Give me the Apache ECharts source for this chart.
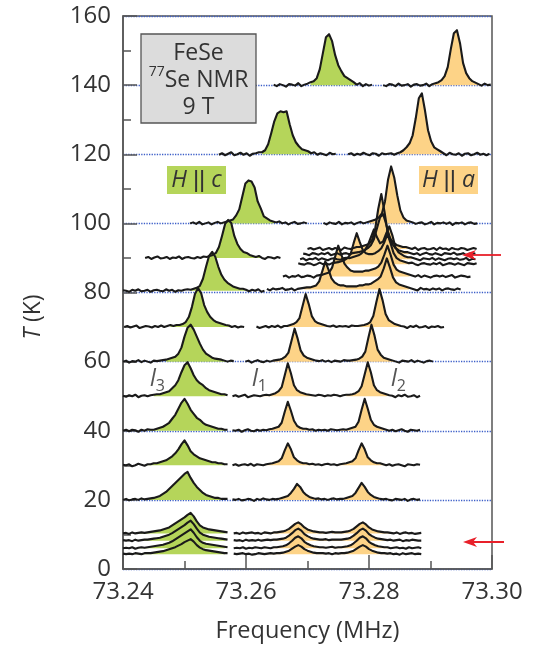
<!DOCTYPE html>
<html>
<head>
<meta charset="utf-8">
<script src="https://cdn.jsdelivr.net/npm/echarts/dist/echarts.min.js"></script>
<style>
html,body{margin:0;padding:0;background:#fff;}
#chart{width:540px;height:648px;}
</style>
</head>
<body>
<div id="chart"></div>
<script>
// ---------------- data ----------------
// frequency axis (MHz) and temperature axis (K)
const xTicks = [73.24, 73.26, 73.28, 73.30];
const yTicks = [0, 20, 40, 60, 80, 100, 120, 140, 160];
const STEP = 0.0005;      // MHz between successive spectrum samples
const SCALE = 0.289;      // K of vertical offset per intensity unit

// spectra: intensities (a.u.) sampled every STEP MHz from the start frequency
// H || c (green) and H || a (orange) segments at each temperature
const c140 = [0.5,-1,1,0,-1.5,1,0.5,-0.5,2,-1,0.5,1.5,3, 4,7,16,32,48,51,44,30,20,14,9,7,5,3, 0.5,2,-1,1,-0.5,0.5];
const a140 = [0,-1,1,0.5,-1,1.5,-0.5,0,1,-1.5,0.5,1,-0.5,0,1.5,-1,1,2, 3,5,9,18,36,52,55,42,22,12,7,4,2.5, 1,-0.5,1.5,0,0.5];
const c120 = [-0.5,1,-1,0.5,2,-1,0,1.5,-0.5,1,-1.5,0.5,1,2, 2,4,10,21,33,41,43,42,43,30,19,12,8,5,4,3, 1,2,-0.5,1,0,-1,1.5,0,0.5];
const a120 = [0,1,-1,0.5,-0.5,1.5,0,-1,1,0.5,-1.5,1,0,0.5,1,-0.5,1, 2,4,7,11,19,36,56,61,44,24,13,7,5,3, 1,-1,1.5,0,-0.5,1,-1.5,0.5,1,-1,0,1.5,-0.5,0.5,-1,0.5];
const c100 = [0,1,-0.5,1.5,-1,0,1,-1,0.5,1.5,0,1,2, 3,4,8,14,27,40,43,42,36,22,15,7,5,3,2,1, 2,0,1,-1,0.5,1.5,-0.5,0,1,0];
const a100 = [0.5,-1,1,0,-0.5,1.5,-1,0.5,0,1,-1,0.5,1.5,0,1, 2,3,4,6,10,22,44,57,46,28,13,6,3,2, 1,-0.5,0.5,1,-1,0,1.5,-1,0.5,0,1,-0.5,1,-1.5,0.5,0,1,-1,0.5,1,-0.5,0];
const a926 = [0,1,-0.5,0.5,1.5,-1,0,1,-0.5,1,0,-1,1.5,0.5,0,1, 2,2,3,4,5,9,20,40,55,38,18,10,6,4,3,2,2, 1,0,1.5,-1,0.5,1,-0.5,0,1,-1,1.5,0,0.5,-1,1,0,-0.5,1,0.5,-1,0,1,0];
const a911 = [0.5,0,-1,1,0.5,-0.5,1,0,1.5,-1,0,1,-0.5,0.5,1,0,1,1.5, 2,3,4,6,9,15,26,37,40,30,17,10,6,4,3,2,2, 1,0,1,-1,0.5,1.5,0,-0.5,1,0,-1,1,0.5,0,1.5,-0.5,0,1,-1,0.5,0,1];
const c90  = [0,1,-1,0.5,1.5,-0.5,0,1,-1,0.5,0,1.5,-1,0.5,1,0,-0.5,1,0,1.5,1, 2,3,5,11,22,34,38,35,22,14,9,6,5,3,2,1, 2,0,-1,1,0.5,-0.5,1,0];
const a896 = [0,1,-1,0.5,0,1.5,-0.5,1,0,-1,0.5,1,0,-0.5,1,1.5,1, 2,3,4,6,9,14,22,30,22,16,18,26,33,24,12,7,5,3,2,2, 1,0,-1,1,0.5,0,1.5,-0.5,1,0,-1,0.5,1,0,1,-0.5,0,1.5,-1,0.5,0];
const a882 = [1,0,-0.5,1,0.5,-1,0,1.5,0,1,-0.5,1,1.5, 2,3,4,6,10,21,31,22,14,11,10,10,11,13,16,22,30,21,11,6,4,3,2, 1,1.5,0,-1,0.5,1,0,-0.5,1,0,1.5,-1,0,1,0.5,-0.5,1,0,-1,1,0.5,0,1];
const a846 = [0,1,-1,0.5,0,1.5,-0.5,0,1,0.5,-1,1,1.5, 2,3,4,9,20,31,22,13,9,6,5,5,5,5,6,6,7,8,10,14,22,31,22,12,7,5,4,3,2, 1,0,1.5,-0.5,1,0,-1,0.5,1,0,1,-0.5,0.5,1.5,-1,0,1,0.5,-0.5,0];
const a809 = [0.5,-1,1,0,0.5,1.5,-0.5,0,1,-1,0.5,1,1.5, 2,2,3,4,8,18,28,20,11,7,5,4,4,3,3,3,3,4,4,5,5,6,8,10,13,21,31,22,12,7,5,4,3,2, 1,0,-1,1.5,0,0.5,-0.5,1,0,1,-1,0.5,1,0,-0.5,1,0];
const c80  = [0.5,0,-1,1,0,1.5,-0.5,0,1,-1,0.5,1,0,-0.5,1.5,0,1,-1,0.5,0,1,1.5,1,2, 3,5,12,24,35,39,34,24,16,11,8,6,4,3,2, 2,1,-0.5,1,0,1.5,-1,0];
const c70  = [0,1,-0.5,0.5,1.5,-1,0,1,0.5,-0.5,1,0,1.5,0,1,2,1,2, 2,3,5,10,20,33,39,34,22,15,10,7,5,4,3,2, 1.5,0,1,-0.5,0.5,0];
const a70  = [0.5,-1,0,1,-0.5,1,0,1.5,-0.5,1,1, 2,3,5,9,21,33,23,11,6,4,3,2, 1,0.5,1.5,0,1,0.5,1,0,1.5,1,1,1.5, 2,3,5,11,25,38,27,13,7,5,3,2, 1,0.5,-1,1,0,1.5,-0.5,0,1,-1,0.5,0,1,-0.5,0];
const c60  = [0,1,-1,0.5,0,1.5,-0.5,1,0,-1,1,0.5,1,1.5, 2,3,4,5,8,14,25,34,37,32,25,18,12,8,6,4,3,2.5,2, 1,0,1,0.5];
const a60  = [0,1,-1,0.5,1.5,0,-0.5,1,0,1,1.5, 2,3,5,9,21,33,23,11,6,4,3,2, 1,0.5,1.5,0,1,-0.5,1,0.5,0,1.5,1,1,1.5, 2,3,5,10,24,37,26,12,7,4,3,2, 1,0,-1,1,0.5,0,1.5,-0.5,1,0,-1,0.5,1,0];
const c50  = [0.5,-0.5,1,0,1.5,-1,0.5,1,0,1,1.5,2, 2,3,4,5,8,11,16,24,31,34,28,21,16,13,11,8,6,5,4,3,2,2,1];
const a50  = [0,1,-0.5,0.5,1.5,-1,0,1,0.5,0,1,1.5,1, 2,3,5,9,21,33,23,11,6,4,3,2, 1.5,1,0.5,1.5,1,0,1,0.5,1.5,1,0,1,1.5,1.5, 2,3,5,10,22,34,24,11,6,4,3,2, 1,0.5,-1,1,0,1.5,-0.5,0,1,-1,0.5];
const c40  = [0,1,-0.5,1,0.5,-1,1,0,1.5,1, 1,2,3,4,6,8,12,16,22,28,32,27,21,17,13,11,8,6,5,4,3,2,2,1,1];
const a40  = [0.5,0,1,-1,0.5,1.5,0,-0.5,1,0,1,0.5,1.5, 2,3,4,8,19,29,20,10,5,3,2,2, 1,1.5,0,1,0.5,1,0,1.5,1,0.5,1,1.5,1, 2,3,4,9,21,32,22,11,6,4,3,2, 1,0,1,-0.5,0.5,1.5,0,-1,1,0.5,0,1];
const c30  = [0.5,0,1,-1,0,1.5,0.5,-0.5,1,1,2, 2,3,4,5,7,9,12,16,21,25,20,14,11,9,7,6,5,4,3,3,2,2,1,1];
const a30  = [0,1,-0.5,0.5,1,0,1.5,-0.5,1,0.5,0,1,1.5, 2,3,4,7,15,22,16,8,5,3,2,2, 1,1.5,0.5,1,0,1,1.5,0.5,1,0,1,1.5, 2,3,4,7,15,22,16,8,5,3,2,2, 1,0,1,-0.5,0.5,1,0,-1,1,0.5,0,1,0.5];
const c20  = [0,1,-0.5,0.5,1,0,1.5,0.5,1,1.5, 2,3,4,6,8,11,14,17,20,23,26,28,22,17,13,10,7,5,4,3,2,2,1,1,1];
const a20  = [0.5,0,1,-0.5,0,1,0.5,-1,1,0,1.5,0.5,0,1,0.5, 1,2,3,4,7,11,16,13,8,5,3,2,1, 1.5,0.5,1,0,1,1.5,0.5,1, 1,2,3,4,7,12,17,13,8,5,3,2,1, 0.5,1,0,-0.5,1,0.5,0,1,-1,0.5,1,0,0.5];
const cL1  = [0,0.5,-0.5,1,0,0.5,1,0.5, 1,1.5,2,2.5,3,4,5,6,8,10,12,14,16,18.5,20.5,17,12,8,6,5,4,3.5,3,2.5,2,1.5,1];
const cL2  = [0.5,0,0.5,-0.5,1,0,0.5,1, 1,1.5,2,2.5,3,4,5,6,7.5,9.5,11.5,13.5,15.5,18,20,16.5,12,8,6,5,4,3.5,3,2.5,2,1.5,1];
const cL3  = [0,0.5,0,1,-0.5,0.5,1,0.5, 1,1.5,2,2.5,3,3.5,4.5,5.5,7,9,11,13,15,17,19,15.5,11,7.5,5.5,4.5,4,3.5,3,2.5,2,1.5,1];
const cL4  = [0.5,0,0.5,0,1,0.5,0,1, 1,1,1.5,2,2.5,3,4,5,6,7,8.5,10,12,13.5,15,12.5,9,6.5,5,4,3.5,3,2.5,2,1.5,1,1];
const aL1  = [0,0.5,-0.5,1,0,0.5,1,0,0.5,-0.5,1,0.5,0,1, 1,1.5,2,3,4.5,7,9.5,11,9,6,4,3,2,1.5,1, 1,0.5,1,1.5,1,1, 1,1.5,2,3,4.5,7,9.5,11,9,6,4,3,2,1.5,1, 1,0.5,0,1,-0.5,0.5,1,0,0.5,-0.5,0,0.5];
const aL2  = [0.5,0,0.5,-0.5,1,0,0.5,0,1,0,0.5,1,0.5,1, 1,1.5,2,3,5,7.5,10.5,12,10,6.5,4.5,3,2,1.5,1, 1,1.5,0.5,1,1,1, 1,1.5,2,3,5,7.5,10.5,12,10,6.5,4.5,3,2,1.5,1, 0.5,1,0,0.5,1,-0.5,0.5,0,1,0.5,0,0];
const aL3  = [0,0.5,0,1,-0.5,0.5,0,1,0.5,0,1,0.5,0,1, 1,1.5,2,3,5,7.5,10.5,12,10,6.5,4.5,3,2,1.5,1, 1,0.5,1,1.5,0.5,1, 1,1.5,2,3,5,7.5,10.5,12,10,6.5,4.5,3,2,1.5,1, 1,0,0.5,1,0,0.5,-0.5,1,0,0.5,1,0];
const aL4  = [0.5,0,0.5,1,0,0.5,-0.5,0,1,0.5,0,0.5,1,0.5, 1,1,1.5,2.5,3.5,5.5,7.5,9,7.5,5,3.5,2.5,1.5,1,1, 1,0.5,1,0,1,0.5, 1,1,1.5,2.5,3.5,5.5,7.5,9,7.5,5,3.5,2.5,1.5,1,1, 0.5,1,0,0.5,-0.5,1,0,0.5,1,0,0.5,0];

const GREEN = '#b5d55a';
const ORANGE = '#fdd387';
const LINE = '#1a1a1a';

// table of segments: baseline temperature T (K), start frequency f0 (MHz),
// intensities, filled index ranges; ordered from high to low temperature
const SEGMENTS = [
  {T:140,  f0:73.2645, v:c140, fill:[[12,27]], col:GREEN},
  {T:140,  f0:73.2823, v:a140, fill:[[15,32]], col:ORANGE},
  {T:120,  f0:73.2556, v:c120, fill:[[14,31]], col:GREEN},
  {T:120,  f0:73.2766, v:a120, fill:[[16,31]], col:ORANGE},
  {T:100,  f0:73.2509, v:c100, fill:[[10,28]], col:GREEN},
  {T:100,  f0:73.2726, v:a100, fill:[[15,28]], col:ORANGE},
  {T:92.6, f0:73.2700, v:a926, fill:[[16,33]], col:ORANGE},
  {T:91.1, f0:73.2693, v:a911, fill:[[18,35]], col:ORANGE},
  {T:90,   f0:73.2436, v:c90,  fill:[[21,38]], col:GREEN},
  {T:89.6, f0:73.2688, v:a896, fill:[[16,37]], col:ORANGE},
  {T:88.2, f0:73.2685, v:a882, fill:[[12,37]], col:ORANGE},
  {T:84.6, f0:73.2660, v:a846, fill:[[12,42]], col:ORANGE},
  {T:80.9, f0:73.2634, v:a809, fill:[[12,47]], col:ORANGE},
  {T:80.5, f0:73.2400, v:c80,  fill:[[22,41]], col:GREEN},
  {T:70,   f0:73.2402, v:c70,  fill:[[15,36]], col:GREEN},
  {T:70,   f0:73.2617, v:a70,  fill:[[8,24],[33,48]], col:ORANGE},
  {T:60,   f0:73.2400, v:c60,  fill:[[14,36]], col:GREEN},
  {T:60,   f0:73.2599, v:a60,  fill:[[9,23],[34,49]], col:ORANGE},
  {T:50,   f0:73.2400, v:c50,  fill:[[10,34]], col:GREEN},
  {T:50,   f0:73.2578, v:a50,  fill:[[9,27],[37,51]], col:ORANGE},
  {T:40,   f0:73.2400, v:c40,  fill:[[8,34]], col:GREEN},
  {T:40,   f0:73.2578, v:a40,  fill:[[9,27],[35,50]], col:ORANGE},
  {T:30,   f0:73.2400, v:c30,  fill:[[8,34]], col:GREEN},
  {T:30,   f0:73.2578, v:a30,  fill:[[9,27],[34,50]], col:ORANGE},
  {T:20,   f0:73.2400, v:c20,  fill:[[6,34]], col:GREEN},
  {T:20,   f0:73.2578, v:a20,  fill:[[12,31],[33,51]], col:ORANGE},
  {T:10.3, f0:73.2400, v:cL1,  fill:[[4,34]], col:GREEN},
  {T:10.3, f0:73.2580, v:aL1,  fill:[[10,31],[32,53]], col:ORANGE},
  {T:8.2,  f0:73.2400, v:cL2,  fill:[[4,34]], col:GREEN},
  {T:8.2,  f0:73.2580, v:aL2,  fill:[[10,31],[32,53]], col:ORANGE},
  {T:6.0,  f0:73.2400, v:cL3,  fill:[[4,34]], col:GREEN},
  {T:6.0,  f0:73.2580, v:aL3,  fill:[[10,31],[32,53]], col:ORANGE},
  {T:4.3,  f0:73.2400, v:cL4,  fill:[[4,34]], col:GREEN},
  {T:4.3,  f0:73.2580, v:aL4,  fill:[[10,31],[32,53]], col:ORANGE}
];

// ---------------- chart ----------------
const FONT = 'Open Sans';
const series = [];
SEGMENTS.forEach(function (s) {
  const pts = s.v.map(function (y, i) {
    return [+(s.f0 + i * STEP).toFixed(5), s.T + y * SCALE];
  });
  s.fill.forEach(function (r) {
    series.push({
      type: 'line', data: pts.slice(r[0], r[1] + 1), showSymbol: false, silent: true,
      lineStyle: {width: 0, opacity: 0},
      areaStyle: {color: s.col, opacity: 1, origin: s.T},
      animation: false
    });
  });
  series.push({
    type: 'line', data: pts, showSymbol: false, silent: true,
    lineStyle: {color: LINE, width: 2.1, join: 'round'}, animation: false
  });
});

const chart = echarts.init(document.getElementById('chart'), null, {renderer: 'canvas'});
const txt = {fontFamily: FONT, fontSize: 23, fill: '#333'};
const ital = {fontStyle: 'italic', fontFamily: FONT, fontSize: 23, fill: '#333'};
const bars = {fontFamily: 'Liberation Sans', fontSize: 24, fill: '#333'};
chart.setOption({
  animation: false,
  grid: {left: 123, right: 48, top: 16, bottom: 79, show: true, borderColor: '#555', borderWidth: 1.5},
  xAxis: {
    type: 'value', min: xTicks[0], max: xTicks[xTicks.length - 1], interval: 0.02,
    axisLine: {lineStyle: {color: '#555', width: 1.5}},
    axisTick: {inside: true, length: 14, lineStyle: {color: '#555', width: 1.5}},
    minorTick: {show: true, splitNumber: 2, length: 8, lineStyle: {color: '#555', width: 1.5}},
    splitLine: {show: false},
    axisLabel: {formatter: function (v) { return v.toFixed(2); }, fontFamily: FONT, fontSize: 24, color: '#333', margin: 11},
    name: 'Frequency (MHz)', nameLocation: 'middle', nameGap: 50,
    nameTextStyle: {fontFamily: FONT, fontSize: 23.5, color: '#333'}
  },
  yAxis: {
    type: 'value', min: yTicks[0], max: yTicks[yTicks.length - 1], interval: 20,
    axisLine: {lineStyle: {color: '#555', width: 1.5}},
    axisTick: {inside: true, length: 14, lineStyle: {color: '#555', width: 1.5}},
    minorTick: {show: true, splitNumber: 2, length: 8, lineStyle: {color: '#555', width: 1.5}},
    splitLine: {show: true, lineStyle: {type: 'dotted', color: '#3d5fc8', width: 1.3}},
    axisLabel: {fontFamily: FONT, fontSize: 24, color: '#333', margin: 12}
  },
  series: series,
  graphic: [
    {type: 'text', x: 33, y: 317, rotation: Math.PI / 2, z: 100,
     style: {text: '{i|T} (K)', fontFamily: FONT, fontSize: 23, fill: '#333', align: 'center', verticalAlign: 'middle',
             rich: {i: ital}}},
    {type: 'rect', z: 100, shape: {x: 141, y: 34, width: 115, height: 89}, style: {fill: '#dcdcdc', stroke: '#555', lineWidth: 1.3}},
    {type: 'text', z: 101, x: 198.5, y: 53, style: Object.assign({text: 'FeSe', align: 'center', verticalAlign: 'middle'}, txt)},
    {type: 'text', z: 101, x: 198.5, y: 80, style: Object.assign({text: '{s|77}Se NMR', align: 'center', verticalAlign: 'middle',
       rich: {s: {fontFamily: FONT, fontSize: 14, fill: '#333', verticalAlign: 'top', lineHeight: 30}}}, txt)},
    {type: 'text', z: 101, x: 198.5, y: 107, style: Object.assign({text: '9 T', align: 'center', verticalAlign: 'middle'}, txt)},
    {type: 'rect', z: 100, shape: {x: 167, y: 166, width: 59, height: 28}, style: {fill: GREEN}},
    {type: 'text', z: 101, x: 196.5, y: 180, style: Object.assign({text: '{i|H} {b|||} {i|c}', align: 'center', verticalAlign: 'middle',
       rich: {i: ital, b: bars}}, txt)},
    {type: 'rect', z: 100, shape: {x: 419, y: 166, width: 59, height: 28}, style: {fill: ORANGE}},
    {type: 'text', z: 101, x: 448.5, y: 180, style: Object.assign({text: '{i|H} {b|||} {i|a}', align: 'center', verticalAlign: 'middle',
       rich: {i: ital, b: bars}}, txt)},
    {type: 'text', z: 101, x: 150, y: 364, style: {text: '{i|l}{s|3}', fontFamily: FONT, fill: '#555',
       rich: {i: {fontStyle: 'italic', fontFamily: FONT, fontSize: 23, fill: '#555'}, s: {fontFamily: FONT, fontSize: 16, fill: '#555', padding: [14, 0, 0, 0]}}}},
    {type: 'text', z: 101, x: 252, y: 364, style: {text: '{i|l}{s|1}', fontFamily: FONT, fill: '#555',
       rich: {i: {fontStyle: 'italic', fontFamily: FONT, fontSize: 23, fill: '#555'}, s: {fontFamily: FONT, fontSize: 16, fill: '#555', padding: [14, 0, 0, 0]}}}},
    {type: 'text', z: 101, x: 391, y: 364, style: {text: '{i|l}{s|2}', fontFamily: FONT, fill: '#555',
       rich: {i: {fontStyle: 'italic', fontFamily: FONT, fontSize: 23, fill: '#555'}, s: {fontFamily: FONT, fontSize: 16, fill: '#555', padding: [14, 0, 0, 0]}}}},
    {type: 'line', z: 100, shape: {x1: 501, y1: 255, x2: 470, y2: 255}, style: {stroke: '#e8202a', lineWidth: 1.8}},
    {type: 'polygon', z: 100, shape: {points: [[462, 255], [476, 250], [472, 255], [476, 260]]}, style: {fill: '#e8202a'}},
    {type: 'line', z: 100, shape: {x1: 504, y1: 542, x2: 470, y2: 542}, style: {stroke: '#e8202a', lineWidth: 1.8}},
    {type: 'polygon', z: 100, shape: {points: [[463, 542], [477, 537], [473, 542], [477, 547]]}, style: {fill: '#e8202a'}}
  ]
});
</script>
</body>
</html>
